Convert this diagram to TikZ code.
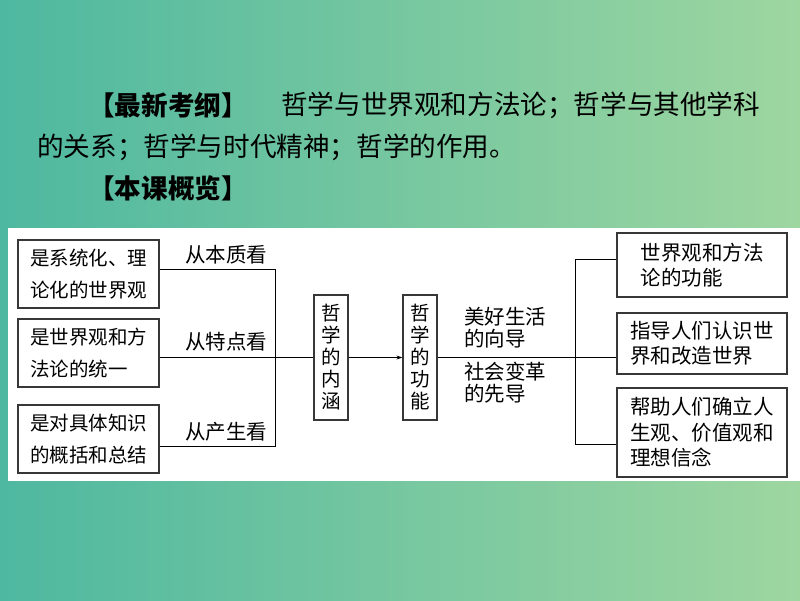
\documentclass[tikz,border=0pt]{standalone}
\usepackage{fontspec}
\setmainfont{Noto Sans CJK SC}
\usetikzlibrary{positioning,arrows.meta}
\definecolor{bgteal}{RGB}{78,184,160}
\definecolor{bggreen}{RGB}{158,214,160}
\definecolor{boxgray}{RGB}{55,55,55}

\begin{document}
\begin{tikzpicture}[x=1pt,y=-1pt,
  title/.style={inner sep=0pt,anchor=west,font=\fontsize{26.6}{30}\selectfont},
  lbox/.style={draw=boxgray,line width=1.2pt,inner sep=0pt,align=left,
    minimum width=141pt,minimum height=68pt,font=\fontsize{19.5}{32}\selectfont},
  vbox/.style={draw=boxgray,line width=1.2pt,inner sep=0pt,align=center,
    minimum width=34pt,minimum height=125pt,font=\fontsize{19.5}{22}\selectfont},
  rbox/.style={draw=boxgray,line width=1.2pt,inner sep=0pt,align=left,
    minimum width=170pt,font=\fontsize{20.5}{25.5}\selectfont},
  lab/.style={inner sep=0pt,align=left,font=\fontsize{20.5}{21.5}\selectfont},
  conn/.style={line width=0.9pt,black}]
\useasboundingbox (0,0) rectangle (800,600);
% Background and panel
\shade[left color=bgteal,right color=bggreen] (0,0) rectangle (800,600);
\fill[white] (8,228) rectangle (800,481);

% Title lines
\node[title] (kg) at (88,105) {\bfseries【最新考纲】};
\node[title] (kgtext) at (281,105) {哲学与世界观和方法论；哲学与其他学科};
\node[title] (kgtext2) at (37,147) {的关系；哲学与时代精神；哲学的作用。};
\node[title] (gl) at (88,188) {\bfseries【本课概览】};

% Left boxes
\node[lbox] (L1) at (88.5,274) {是系统化、理\\论化的世界观};
\node[lbox] (L2) at (88.5,353) {是世界观和方\\法论的统一};
\node[lbox] (L3) at (88.5,439) {是对具体知识\\的概括和总结};
\node[lab] (a1) at (226,255) {从本质看};
\node[lab] (a2) at (226,342) {从特点看};
\node[lab] (a3) at (226,432) {从产生看};

% Middle boxes
\node[vbox] (N) at (331,357.5) {哲\\学\\的\\内\\涵};
\node[vbox] (F) at (420,357.5) {哲\\学\\的\\功\\能};
\node[lab,anchor=west] (g1) at (464,327.5) {美好生活\\的向导};
\node[lab,anchor=west] (g2) at (464,382.5) {社会变革\\的先导};

% Right boxes
\node[rbox,minimum height=64pt] (R1) at (702,265) {世界观和方法\\论的功能};
\node[rbox,minimum height=61pt] (R2) at (702,343.5) {指导人们认识世\\界和改造世界};
\node[rbox,minimum height=89pt] (R3) at (702,432.5) {帮助人们确立人\\生观、价值观和\\理想信念};

% Connectors
\coordinate (lbus) at (275,0);
\coordinate (rbus) at (575,0);
\draw[conn] ([yshift=5pt]L1.east) -| (lbus |- N.west);
\draw[conn] ([yshift=-7pt]L3.east) -| (lbus |- N.west);
\draw[conn] (N.west -| L2.east) -- (N.west);
\draw[conn,-{Stealth[length=6pt,width=4pt]}] (N.east) -- (F.west);
\draw[conn] (F.east) -- (F.east -| R2.west);
\draw[conn] (rbus |- F.east) |- ([yshift=6pt]R1.west);
\draw[conn] (rbus |- F.east) |- ([yshift=-12pt]R3.west);
\end{tikzpicture}
\end{document}
